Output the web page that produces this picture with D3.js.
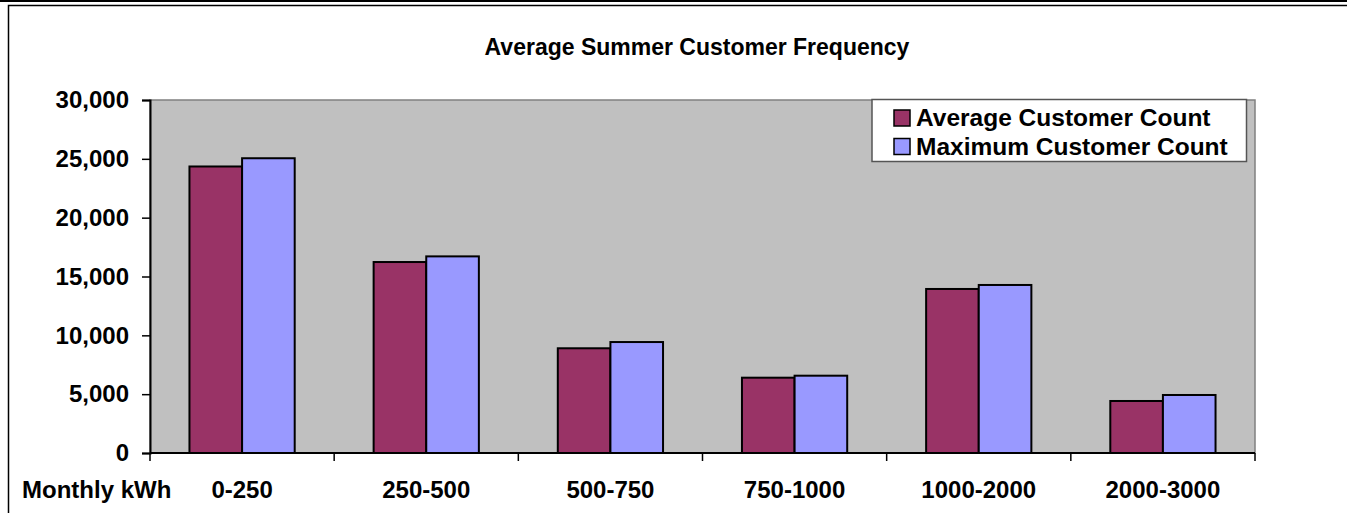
<!DOCTYPE html>
<html>
<head>
<meta charset="utf-8">
<script src="https://cdn.jsdelivr.net/npm/d3@7"></script>
<style>
  html, body { margin: 0; padding: 0; background: #fff; }
  svg { display: block; }
  text { font-family: "Liberation Sans", Arial, sans-serif; font-weight: bold; fill: #000; }
</style>
</head>
<body>
<svg id="chart" width="1347" height="513"></svg>
<script>
const categories = ["0-250", "250-500", "500-750", "750-1000", "1000-2000", "2000-3000"];
const seriesNames = ["Average Customer Count", "Maximum Customer Count"];
const averageCount = [24350, 16230, 8900, 6400, 13940, 4420];
const maximumCount = [25050, 16710, 9430, 6570, 14280, 4930];
const yTicks = [0, 5000, 10000, 15000, 20000, 25000, 30000];
const colors = ["#993366", "#9999FF"];
const titleText = "Average Summer Customer Frequency";
const xAxisLabel = "Monthly kWh";

const svg = d3.select("#chart");
const W = 1347, H = 513;
const plot = { left: 150, right: 1255, top: 100, bottom: 453 };
const FS = 24;

// outer frame
svg.append("line").attr("x1", 0).attr("x2", W).attr("y1", 1).attr("y2", 1)
  .attr("stroke", "#000").attr("stroke-width", 2);
svg.append("path").attr("d", `M8.5,${H} L8.5,5.5 L${W},5.5`)
  .attr("fill", "none").attr("stroke", "#000").attr("stroke-width", 1.5);

// title
svg.append("text").attr("x", 697).attr("y", 55).attr("text-anchor", "middle")
  .attr("font-size", 23).text(titleText);

const x = d3.scaleBand().domain(categories).range([plot.left, plot.right]).padding(0);
const bw = x.bandwidth();
const barW = bw / 3.5;
const xs = d3.scaleBand().domain([0, 1]).range([barW * 0.75, barW * 2.75]).padding(0);
const y = d3.scaleLinear().domain([0, 30000]).range([plot.bottom, plot.top]);

// plot area
svg.append("rect").attr("x", plot.left).attr("y", plot.top)
  .attr("width", plot.right - plot.left).attr("height", plot.bottom - plot.top)
  .attr("fill", "#C0C0C0").attr("stroke", "#808080").attr("stroke-width", 1.5);

// bars
const data = categories.map((c, i) => ({ c, vals: [averageCount[i], maximumCount[i]] }));
const groups = svg.append("g").selectAll("g").data(data).join("g")
  .attr("transform", d => `translate(${x(d.c)},0)`);
groups.selectAll("rect").data(d => d.vals.map((v, k) => ({ v, k }))).join("rect")
  .attr("x", d => xs(d.k))
  .attr("y", d => y(d.v))
  .attr("width", xs.bandwidth())
  .attr("height", d => y(0) - y(d.v))
  .attr("fill", d => colors[d.k])
  .attr("stroke", "#000").attr("stroke-width", 2);

// y axis
const yAxis = d3.axisLeft(y).tickValues(yTicks).tickFormat(d3.format(",")).tickSize(8).tickPadding(13);
const yg = svg.append("g").attr("transform", `translate(${plot.left},0)`).call(yAxis);
yg.select(".domain").attr("stroke", "#000").attr("stroke-width", 2);
yg.selectAll(".tick line").attr("stroke", "#000").attr("stroke-width", 1.5);
yg.selectAll(".tick text").attr("font-size", FS).attr("font-family", "Liberation Sans, Arial, sans-serif")
  .attr("font-weight", "bold").attr("fill", "#000");

// x axis line
svg.append("line").attr("x1", plot.left).attr("x2", plot.right).attr("y1", plot.bottom).attr("y2", plot.bottom)
  .attr("stroke", "#000").attr("stroke-width", 2);
const boundaries = categories.map(c => x(c)).concat([x.range()[1]]);
svg.append("g").selectAll("line").data(boundaries).join("line")
  .attr("x1", d => d).attr("x2", d => d).attr("y1", plot.bottom).attr("y2", plot.bottom + 8)
  .attr("stroke", "#000").attr("stroke-width", 1.5);
svg.append("g").selectAll("text").data(categories).join("text")
  .attr("x", d => x(d) + bw / 2).attr("y", 498).attr("text-anchor", "middle")
  .attr("font-size", FS).text(d => d);
svg.append("text").attr("x", 22).attr("y", 498).attr("font-size", FS).text(xAxisLabel);

// legend
const lg = svg.append("g");
lg.append("rect").attr("x", 872).attr("y", 99.5).attr("width", 374.5).attr("height", 62)
  .attr("fill", "#fff").attr("stroke", "#555").attr("stroke-width", 1.5);
const items = lg.selectAll("g").data(seriesNames).join("g")
  .attr("transform", (d, i) => `translate(0,${i * 28.5})`);
items.append("rect").attr("x", 894).attr("y", 110).attr("width", 16).attr("height", 16)
  .attr("fill", (d, i) => colors[i]).attr("stroke", "#000").attr("stroke-width", 1.5);
items.append("text").attr("x", 916).attr("y", 126).attr("font-size", 24.5).text(d => d);
</script>
</body>
</html>
